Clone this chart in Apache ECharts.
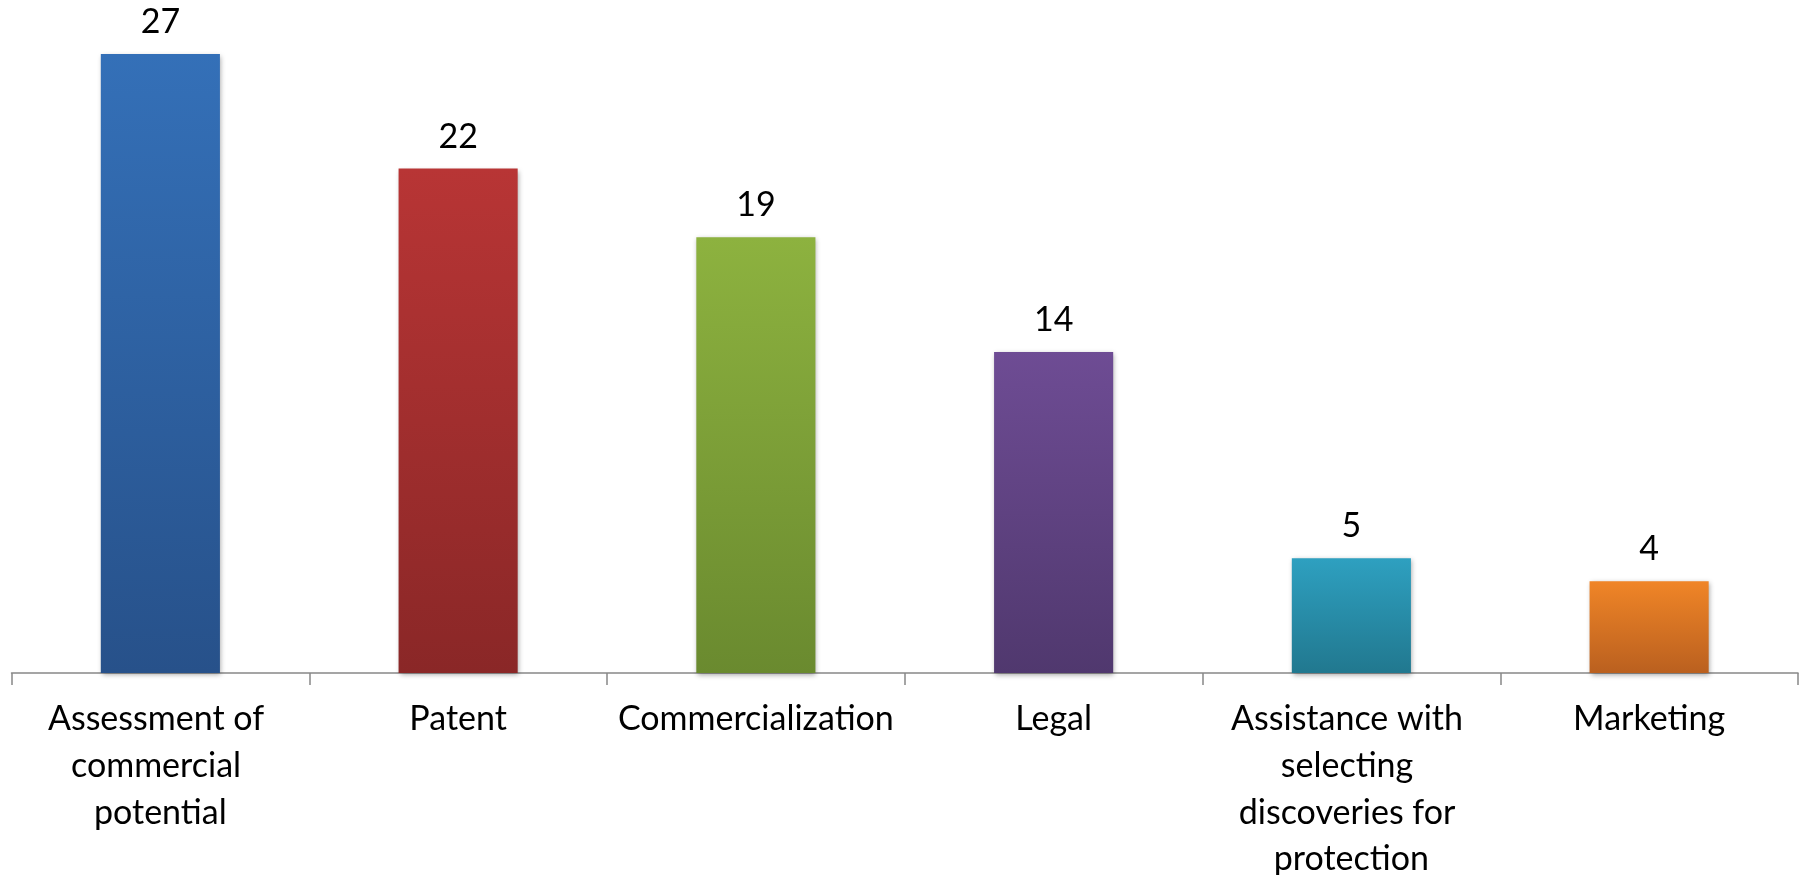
<!DOCTYPE html>
<html>
<head>
<meta charset="utf-8">
<script src="https://cdn.jsdelivr.net/npm/echarts@6/dist/echarts.min.js"></script>
<style>
html,body{margin:0;padding:0;background:#fff;}
#chart{width:1805px;height:875px;}
</style>
</head>
<body>
<div id="chart"></div>
<script>
const categories = [
  "Assessment of commercial potential",
  "Patent",
  "Commercialization",
  "Legal",
  "Assistance with selecting discoveries for protection",
  "Marketing"
];
const values = [27, 22, 19, 14, 5, 4];
const topColors = ["#3470B8", "#B83535", "#8DB23F", "#6E4C94", "#2EA0C0", "#F08527"];
const bottomColors = ["#27518A", "#8A2727", "#6A8A2F", "#50386E", "#21788F", "#BA601F"];

const chart = echarts.init(document.getElementById('chart'));
const FONT = 'Lato';
chart.setOption({
  animation: false,
  backgroundColor: '#fff',
  grid: { left: 11.5, right: 7, top: 31, bottom: 202, containLabel: false, outerBoundsMode: 'none' },
  xAxis: {
    type: 'category',
    data: categories,
    axisLine: { show: true, lineStyle: { color: '#888', width: 1.5 } },
    axisTick: { show: true, alignWithLabel: false, interval: 0, length: 12, lineStyle: { color: '#888', width: 1.5 } },
    axisLabel: {
      interval: 0,
      margin: 23,
      color: '#000',
      fontFamily: FONT,
      fontSize: 34,
      lineHeight: 46.7,
      width: 292,
      overflow: 'break'
    }
  },
  yAxis: {
    type: 'value',
    min: 0,
    max: 28,
    show: false,
    splitLine: { show: false }
  },
  series: [{
    type: 'bar',
    barCategoryGap: '60%',
    data: values.map((v, i) => ({
      value: v,
      itemStyle: {
        color: new echarts.graphic.LinearGradient(0, 0, 0, 1, [
          { offset: 0, color: topColors[i] },
          { offset: 1, color: bottomColors[i] }
        ])
      }
    })),
    itemStyle: {
      shadowColor: 'rgba(0,0,0,0.35)',
      shadowBlur: 5,
      shadowOffsetX: 1,
      shadowOffsetY: 2
    },
    label: {
      show: true,
      position: 'top',
      distance: 15,
      color: '#000',
      fontFamily: FONT,
      fontSize: 34
    }
  }]
});
</script>
</body>
</html>
